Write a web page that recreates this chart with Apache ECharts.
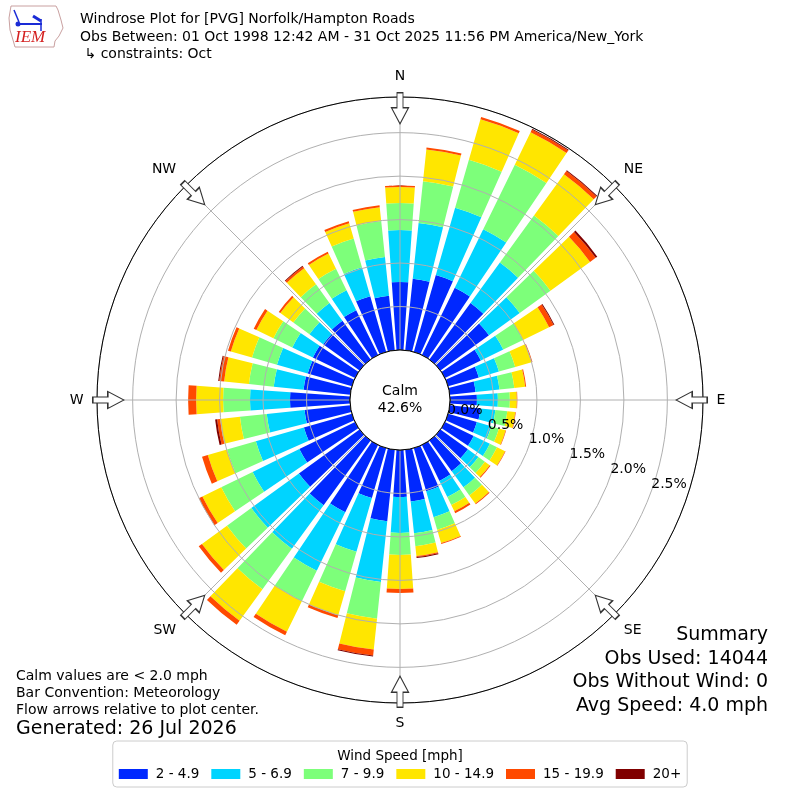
<!DOCTYPE html>
<html><head><meta charset="utf-8">
<script src="https://cdn.jsdelivr.net/npm/echarts@6/dist/echarts.min.js"></script>
<style>html,body{margin:0;padding:0;background:#fff}#c{width:800px;height:800px}</style>
</head><body><div id="c"></div>
<script>
// ---- data ----
const windDirections = [0,10,20,30,40,50,60,70,80,90,100,110,120,130,140,150,160,170,180,190,200,210,220,230,240,250,260,270,280,290,300,310,320,330,340,350];
const speedBins = ['2 - 4.9','5 - 6.9','7 - 9.9','10 - 14.9','15 - 19.9','20+'];
const binColors = ['#0028ff','#00d4ff','#7dff7a','#ffe600','#ff4a00','#800000'];
const bin2to5   = [0.782,0.828,0.920,0.862,0.805,0.690,0.460,0.368,0.299,0.310,0.356,0.345,0.368,0.391,0.437,0.460,0.517,0.598,0.540,0.828,0.598,0.862,0.920,0.862,0.713,0.575,0.529,0.690,0.540,0.529,0.540,0.517,0.552,0.575,0.667,0.632];
const bin5to7   = [0.598,0.644,0.805,0.747,0.575,0.437,0.287,0.241,0.276,0.241,0.172,0.172,0.207,0.149,0.230,0.207,0.310,0.368,0.414,0.701,0.644,0.747,0.621,0.678,0.598,0.575,0.437,0.460,0.345,0.368,0.264,0.195,0.253,0.253,0.345,0.448];
const bin7to10  = [0.310,0.483,0.575,0.828,0.667,0.437,0.253,0.195,0.172,0.138,0.138,0.092,0.092,0.092,0.115,0.103,0.149,0.149,0.253,0.425,0.471,0.391,0.575,0.345,0.402,0.345,0.310,0.310,0.287,0.299,0.241,0.230,0.264,0.276,0.345,0.414];
const bin10to15 = [0.184,0.368,0.483,0.414,0.586,0.563,0.333,0.195,0.126,0.080,0.092,0.080,0.103,0.069,0.115,0.080,0.161,0.115,0.391,0.356,0.287,0.391,0.448,0.356,0.241,0.230,0.230,0.310,0.287,0.253,0.218,0.184,0.230,0.195,0.184,0.161];
const bin15to20 = [0.017,0.023,0.029,0.034,0.046,0.080,0.057,0.011,0.011,0.006,0.006,0.006,0.006,0.011,0.011,0.023,0.011,0.011,0.046,0.069,0.034,0.046,0.057,0.046,0.046,0.069,0.034,0.092,0.057,0.034,0.034,0.023,0.023,0.023,0.023,0.023];
const bin20plus = [0,0,0,0.011,0.011,0.023,0.011,0,0,0,0,0,0,0,0,0,0,0.011,0,0.011,0,0,0,0,0,0,0.023,0,0.011,0,0,0,0.011,0,0,0];
const calmPercent = 42.6;
const compassLabels = ['N','NE','E','SE','S','SW','W','NW'];
const compassBearings = [0,45,90,135,180,225,270,315];
const radiusMax = 2.91;
const ringInterval = 0.5;

const binData = [bin2to5,bin5to7,bin7to10,bin10to15,bin15to20,bin20plus];

// ---- layout ----
const FONT = 'DejaVu Sans';
const C = [400,400];
const R = [50,303];
const GRID = '#b0b0b0';
const ARROW = 'path://M5.5,0L11.5,0L11.5,15L17,15L8.5,31L0,15L5.5,15Z';

const chart = echarts.init(document.getElementById('c'), null, {renderer:'canvas'});

const option = {
  animation:false,
  backgroundColor:'#fff',
  textStyle:{fontFamily:FONT},
  title:{text:'Wind Speed [mph]', left:'center', top:744,
    textStyle:{fontFamily:FONT, fontSize:13.5, fontWeight:'normal', color:'#000'}},
  legend:{data:speedBins, left:'center', top:741, orient:'horizontal', icon:'rect',
    itemWidth:29, itemHeight:10, itemGap:12, padding:[26,6,6,6],
    borderColor:'#cccccc', borderWidth:1, borderRadius:4,
    textStyle:{fontFamily:FONT, fontSize:13.5, color:'#000', padding:[0,0,0,3]}, selectedMode:false},
  polar:[
    {center:C, radius:R},
    {center:C, radius:R},
    {center:C, radius:R}
  ],
  angleAxis:[
    {polarIndex:0, type:'value', min:0, max:360, interval:45, startAngle:90, clockwise:true, z:5,
      axisLine:{show:true, lineStyle:{color:'#000', width:1}},
      axisTick:{show:false},
      axisLabel:{show:true, margin:13.5, align:'center', verticalAlign:'middle', fontFamily:FONT, fontSize:14, color:'#000',
        formatter:v=> v>=360 ? '' : compassLabels[Math.round(v/45)%8]},
      splitLine:{show:true, lineStyle:{color:GRID, width:1}}},
    {polarIndex:1, type:'value', min:0, max:360, startAngle:-20, clockwise:true, show:false},
    {polarIndex:2, type:'category', data:windDirections, startAngle:95, clockwise:true,
      boundaryGap:true, axisLine:{show:false}, axisTick:{show:false}, axisLabel:{show:false}, splitLine:{show:false}}
  ],
  radiusAxis:[
    {polarIndex:0, type:'value', min:0, max:radiusMax, interval:ringInterval, z:5,
      axisLine:{show:false}, axisTick:{show:false}, axisLabel:{show:false},
      splitLine:{show:true, lineStyle:{color:GRID, width:1}}},
    {polarIndex:1, type:'value', min:0, max:radiusMax, interval:ringInterval, z:9,
      axisLine:{show:false}, axisTick:{show:false}, splitLine:{show:false},
      axisLabel:{show:true, margin:0, align:'left', verticalAlign:'bottom', fontFamily:FONT, fontSize:14, color:'#000',
        formatter:v=> v>radiusMax-0.2 && v!==2.5 ? '' : v.toFixed(1)+'%'}},
    {polarIndex:2, type:'value', min:0, max:radiusMax, axisLine:{show:false}, axisTick:{show:false},
      axisLabel:{show:false}, splitLine:{show:false}}
  ],
  series:[
    ...speedBins.map((name,i)=>({
      type:'bar', name, coordinateSystem:'polar', polarIndex:2, stack:'rose',
      data:binData[i], barCategoryGap:'20%', z:2, silent:true,
      itemStyle:{color:binColors[i]}
    })),
    {type:'pie', center:C, radius:[0,R[0]], silent:true, z:10, animation:false,
      data:[{name:'Calm', value:calmPercent}],
      itemStyle:{color:'#fff', borderColor:'#000', borderWidth:1},
      label:{show:true, position:'center', fontFamily:FONT, fontSize:14, color:'#000', lineHeight:17,
        formatter:p=>'Calm\n'+p.value.toFixed(1)+'%'},
      labelLine:{show:false}, emphasis:{disabled:true}},
    {type:'scatter', coordinateSystem:'polar', polarIndex:0, silent:true, z:12,
      symbol:ARROW, symbolSize:[17,31], symbolKeepAspect:false,
      itemStyle:{color:'#fff', borderColor:'#333', borderWidth:1.2, opacity:1},
      data:compassBearings.map(b=>({value:[2.78,b], symbolRotate:-b}))}
  ],
  graphic:[
    // IEM logo (approximate)
    {type:'polyline', shape:{points:[[11,6],[56,6],[58,10],[61,20],[63,28],[59,36],[55,41],[54,47],[15,47],[13,40],[10,30],[9,18],[11,6]]},
      style:{stroke:'#c9a0a0', lineWidth:1, fill:null}},
    {type:'line', shape:{x1:18,y1:24,x2:42,y2:24}, style:{stroke:'#1a2bd6', lineWidth:2}},
    {type:'circle', shape:{cx:18,cy:24,r:2.5}, style:{fill:'#1a2bd6'}},
    {type:'line', shape:{x1:14,y1:10,x2:19,y2:22}, style:{stroke:'#1a2bd6', lineWidth:1.5}},
    {type:'line', shape:{x1:33,y1:16,x2:41,y2:21}, style:{stroke:'#1a2bd6', lineWidth:3}},
    {type:'line', shape:{x1:41,y1:19,x2:41,y2:31}, style:{stroke:'#1a2bd6', lineWidth:1.5}},
    {type:'text', x:15, y:38, style:{text:'IEM', font:'italic 17px "Liberation Serif"', fill:'#d42020', textVerticalAlign:'middle'}},
    // header
    {type:'text', x:80, y:19, style:{text:'Windrose Plot for [PVG] Norfolk/Hampton Roads', font:'14px "DejaVu Sans"', fill:'#000', textVerticalAlign:'middle'}},
    {type:'text', x:80, y:37, style:{text:'Obs Between: 01 Oct 1998 12:42 AM - 31 Oct 2025 11:56 PM America/New_York', font:'14px "DejaVu Sans"', fill:'#000', textVerticalAlign:'middle'}},
    {type:'text', x:80, y:54, style:{text:' \u21B3 constraints: Oct', font:'14px "DejaVu Sans"', fill:'#000', textVerticalAlign:'middle'}},
    // bottom-left notes
    {type:'text', x:16, y:676, style:{text:'Calm values are < 2.0 mph', font:'14px "DejaVu Sans"', fill:'#000', textVerticalAlign:'middle'}},
    {type:'text', x:16, y:693, style:{text:'Bar Convention: Meteorology', font:'14px "DejaVu Sans"', fill:'#000', textVerticalAlign:'middle'}},
    {type:'text', x:16, y:710, style:{text:'Flow arrows relative to plot center.', font:'14px "DejaVu Sans"', fill:'#000', textVerticalAlign:'middle'}},
    {type:'text', x:16, y:729, style:{text:'Generated: 26 Jul 2026', font:'19px "DejaVu Sans"', fill:'#000', textVerticalAlign:'middle'}},
    // summary
    {type:'text', x:768, y:635, style:{text:'Summary', font:'19px "DejaVu Sans"', fill:'#000', textAlign:'right', textVerticalAlign:'middle'}},
    {type:'text', x:768, y:659, style:{text:'Obs Used: 14044', font:'19px "DejaVu Sans"', fill:'#000', textAlign:'right', textVerticalAlign:'middle'}},
    {type:'text', x:768, y:682, style:{text:'Obs Without Wind: 0', font:'19px "DejaVu Sans"', fill:'#000', textAlign:'right', textVerticalAlign:'middle'}},
    {type:'text', x:768, y:706, style:{text:'Avg Speed: 4.0 mph', font:'19px "DejaVu Sans"', fill:'#000', textAlign:'right', textVerticalAlign:'middle'}}
  ]
};
chart.setOption(option);
</script>
</body></html>
